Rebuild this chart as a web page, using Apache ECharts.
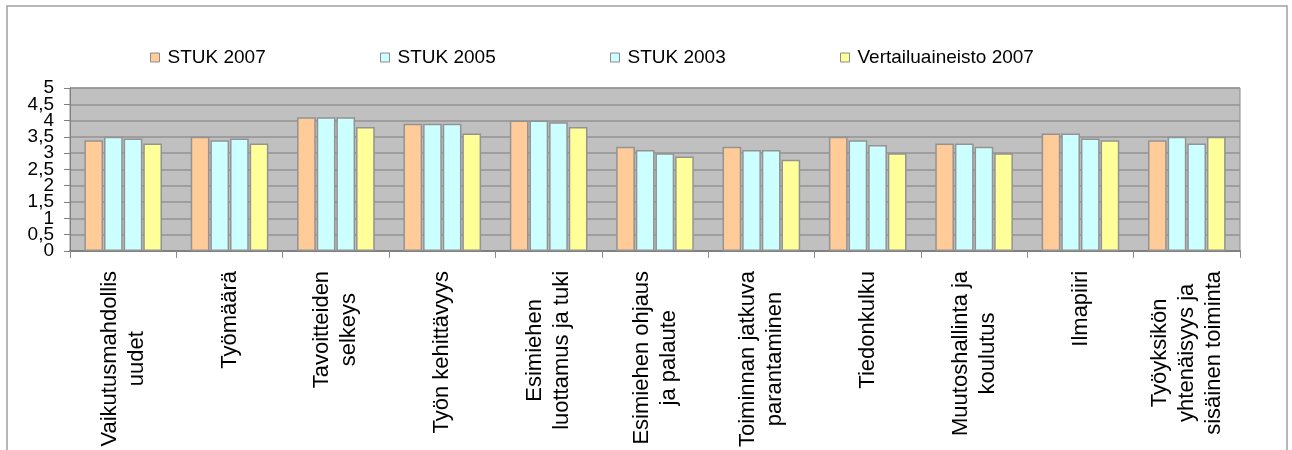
<!DOCTYPE html>
<html>
<head>
<meta charset="utf-8">
<script src="https://cdn.jsdelivr.net/npm/echarts@6/dist/echarts.min.js"></script>
<style>
html,body{margin:0;padding:0;background:#fff;}
#main{width:1292px;height:450px;}
</style>
</head>
<body>
<div id="main"></div>
<script>
const categories = [
  'Vaikutusmahdollis\nuudet',
  'Työmäärä',
  'Tavoitteiden\nselkeys',
  'Työn kehittävyys',
  'Esimiehen\nluottamus ja tuki',
  'Esimiehen ohjaus\nja palaute',
  'Toiminnan jatkuva\nparantaminen',
  'Tiedonkulku',
  'Muutoshallinta ja\nkoulutus',
  'Ilmapiiri',
  'Työyksikön\nyhtenäisyys ja\nsisäinen toiminta'
];
const seriesNames = ['STUK 2007', 'STUK 2005', 'STUK 2003', 'Vertailuaineisto 2007'];
const stuk2007 = [3.4, 3.5, 4.1, 3.9, 4.0, 3.2, 3.2, 3.5, 3.3, 3.6, 3.4];
const stuk2005 = [3.5, 3.4, 4.1, 3.9, 4.0, 3.1, 3.1, 3.4, 3.3, 3.6, 3.5];
const stuk2003 = [3.45, 3.45, 4.1, 3.9, 3.95, 3.0, 3.1, 3.25, 3.2, 3.45, 3.3];
const vertailu2007 = [3.3, 3.3, 3.8, 3.6, 3.8, 2.9, 2.8, 3.0, 3.0, 3.4, 3.5];
const yTickValues = [0, 0.5, 1, 1.5, 2, 2.5, 3, 3.5, 4, 4.5, 5];
const yTickLabels = ['0', '0,5', '1', '1,5', '2', '2,5', '3', '3,5', '4', '4,5', '5'];
const colors = ['#FFCC99', '#CCFFFF', '#CCFFFF', '#FFFF99'];

const FONT = '"Liberation Sans", Arial, sans-serif';
const legendLefts = [150, 380, 610, 840];
const chart = echarts.init(document.getElementById('main'));
const allData = [stuk2007, stuk2005, stuk2003, vertailu2007];

function fmtY(v) {
  const idx = yTickValues.indexOf(Math.round(v * 10) / 10);
  return idx >= 0 ? yTickLabels[idx] : '';
}
const evenTicks = yTickValues.filter(function (v, i) { return i % 2 === 0; });
const oddTicks = yTickValues.filter(function (v, i) { return i % 2 === 1; });
const yLabelStyle = { margin: 16, color: '#000', fontFamily: FONT, fontSize: 19, formatter: fmtY, showMinLabel: true, showMaxLabel: true };

chart.setOption({
  animation: false,
  backgroundColor: '#ffffff',
  graphic: [{
    type: 'rect',
    shape: { x: 7, y: 6, width: 1280, height: 500 },
    style: { fill: 'none', stroke: '#a0a0a0', lineWidth: 1.5 },
    silent: true
  }],
  legend: seriesNames.map(function (name, i) {
    return {
      left: legendLefts[i],
      top: 48,
      padding: 0,
      itemWidth: 9,
      itemHeight: 9,
      icon: 'rect',
      itemStyle: { borderColor: '#8c8c8c', borderWidth: 1 },
      textStyle: { fontFamily: FONT, fontSize: 19, color: '#000', padding: [0, 0, 0, 3] },
      data: [name]
    };
  }),
  grid: {
    left: 70,
    right: 52,
    top: 88,
    bottom: 195,
    show: true,
    backgroundColor: '#C0C0C0',
    borderColor: '#8a8a8a',
    borderWidth: 1
  },
  xAxis: {
    type: 'category',
    data: categories,
    axisLine: { lineStyle: { color: '#808080', width: 2 } },
    axisTick: { show: true, length: 7, lineStyle: { color: '#8a8a8a' } },
    axisLabel: {
      interval: 0,
      rotate: 90,
      margin: 20,
      color: '#000',
      fontFamily: FONT,
      fontSize: 22,
      lineHeight: 27,
      formatter: function (v) {
        return v.split('\n').map(function (l) { return '{c|' + l + '}'; }).join('\n');
      },
      rich: {
        c: { align: 'center', fontSize: 22, lineHeight: 27, fontFamily: FONT, color: '#000' }
      }
    }
  },
  yAxis: [{
    type: 'value',
    min: 0,
    max: 5,
    interval: 0.5,
    position: 'left',
    axisLine: { show: true, lineStyle: { color: '#808080', width: 1 } },
    axisTick: { show: true, length: 6, lineStyle: { color: '#808080' } },
    splitLine: { show: true, lineStyle: { color: '#939393', width: 1.5 } },
    axisLabel: Object.assign({ customValues: evenTicks }, yLabelStyle)
  }, {
    type: 'value',
    min: 0,
    max: 5,
    interval: 0.5,
    position: 'left',
    offset: 0,
    axisLine: { show: false },
    axisTick: { show: false },
    splitLine: { show: false },
    axisLabel: Object.assign({ customValues: oddTicks }, yLabelStyle)
  }],
  series: seriesNames.map(function (name, i) {
    return {
      name: name,
      type: 'bar',
      data: allData[i],
      barCategoryGap: '27%',
      barGap: '5%',
      itemStyle: { color: colors[i], borderColor: '#939393', borderWidth: 1.5 }
    };
  })
});
</script>
</body>
</html>
